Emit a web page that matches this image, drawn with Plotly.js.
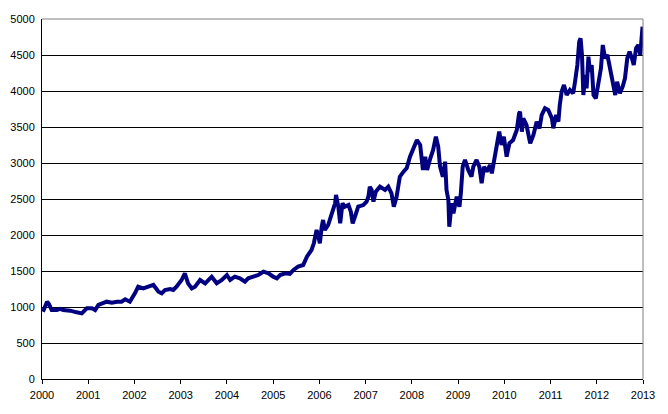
<!DOCTYPE html>
<html>
<head>
<meta charset="utf-8">
<script src="https://cdn.plot.ly/plotly-3.0.1.min.js"></script>
<style>
  html, body { margin: 0; padding: 0; background: #ffffff; }
  #chart { width: 668px; height: 414px; }
</style>
</head>
<body>
<div id="chart"></div>
<script>
// Time in decimal years
const years = [
  2000.02, 2000.11, 2000.15, 2000.21, 2000.32, 2000.39, 2000.46, 2000.61, 2000.75, 2000.86,
  2000.97, 2001.08, 2001.15, 2001.22, 2001.40, 2001.51, 2001.62, 2001.72, 2001.80, 2001.90,
  2002.01, 2002.08, 2002.19, 2002.30, 2002.41, 2002.52, 2002.59, 2002.66, 2002.77, 2002.84,
  2002.91, 2003.02, 2003.09, 2003.16, 2003.24, 2003.31, 2003.42, 2003.53, 2003.67, 2003.78,
  2003.89, 2004.00, 2004.07, 2004.17, 2004.28, 2004.39, 2004.46, 2004.57, 2004.68, 2004.79,
  2004.90, 2005.00, 2005.08, 2005.15, 2005.26, 2005.36, 2005.44, 2005.54, 2005.65, 2005.73,
  2005.80, 2005.83, 2005.88, 2005.94, 2005.98, 2006.01, 2006.05, 2006.08, 2006.12, 2006.19,
  2006.27, 2006.34, 2006.36, 2006.41, 2006.45, 2006.50, 2006.55, 2006.63, 2006.68, 2006.72,
  2006.77, 2006.84, 2006.95, 2007.02, 2007.06, 2007.09, 2007.13, 2007.17, 2007.22, 2007.31,
  2007.42, 2007.49, 2007.56, 2007.61, 2007.67, 2007.71, 2007.74, 2007.82, 2007.89, 2007.96,
  2008.03, 2008.11, 2008.18, 2008.24, 2008.29, 2008.33, 2008.40, 2008.46, 2008.52, 2008.57,
  2008.61, 2008.67, 2008.72, 2008.75, 2008.79, 2008.81, 2008.86, 2008.90, 2008.97, 2009.03,
  2009.06, 2009.10, 2009.15, 2009.22, 2009.29, 2009.33, 2009.40, 2009.46, 2009.51, 2009.56,
  2009.62, 2009.69, 2009.73, 2009.80, 2009.85, 2009.89, 2009.94, 2009.99, 2010.05, 2010.11,
  2010.19, 2010.27, 2010.32, 2010.34, 2010.38, 2010.41, 2010.48, 2010.52, 2010.56, 2010.63,
  2010.70, 2010.76, 2010.81, 2010.88, 2010.95, 2011.03, 2011.06, 2011.12, 2011.17, 2011.20,
  2011.24, 2011.29, 2011.35, 2011.42, 2011.49, 2011.53, 2011.58, 2011.62, 2011.65, 2011.68,
  2011.71, 2011.75, 2011.78, 2011.82, 2011.85, 2011.89, 2011.93, 2011.98, 2012.03, 2012.09,
  2012.13, 2012.18, 2012.23, 2012.29, 2012.34, 2012.40, 2012.44, 2012.50, 2012.56, 2012.61,
  2012.66, 2012.71, 2012.76, 2012.80, 2012.85, 2012.90, 2012.94, 2012.97, 2012.99
];

// Index level
const values = [
  935, 1074, 1040, 958, 958, 975, 958, 949, 926, 912,
  982, 982, 958, 1028, 1074, 1060, 1074, 1074, 1107, 1074,
  1190, 1282, 1259, 1282, 1306, 1213, 1190, 1236, 1250, 1236,
  1282, 1375, 1468, 1329, 1259, 1282, 1375, 1329, 1421, 1329,
  1375, 1444, 1375, 1421, 1398, 1352, 1398, 1421, 1444, 1491,
  1468, 1421, 1398, 1444, 1468, 1459, 1514, 1560, 1583, 1699,
  1754, 1792, 1885, 2069, 1977, 1885, 2115, 2208, 2069, 2139,
  2301, 2440, 2556, 2393, 2162, 2440, 2393, 2416, 2324, 2162,
  2254, 2393, 2416, 2463, 2532, 2671, 2625, 2463, 2602, 2671,
  2625, 2671, 2579, 2393, 2532, 2718, 2810, 2880, 2930, 3088,
  3181, 3319, 3250, 2903, 3088, 2903, 3065, 3181, 3366, 3227,
  2949, 2810, 3018, 2625, 2486, 2115, 2440, 2301, 2532, 2393,
  2579, 2949, 3042, 2903, 2810, 2949, 3042, 2949, 2718, 2949,
  2880, 2972, 2857, 3134, 3273, 3435, 3250, 3366, 3088, 3273,
  3319, 3458, 3690, 3713, 3435, 3620, 3528, 3366, 3273, 3389,
  3574, 3481, 3667, 3760, 3737, 3620, 3482, 3667, 3574, 3806,
  3991, 4083, 3944, 4014, 3968, 4129, 4361, 4685, 4731, 4500,
  3944, 4222, 4037, 4477, 4268, 4361, 3944, 3898, 4129, 4315,
  4639, 4454, 4500, 4292, 4129, 3944, 4129, 3968, 4060, 4176,
  4454, 4546, 4454, 4361, 4593, 4639, 4500, 4778, 4893
];

const xTicks = [2000, 2001, 2002, 2003, 2004, 2005, 2006, 2007, 2008, 2009, 2010, 2011, 2012, 2013];
const xTickLabels = ['2000', '2001', '2002', '2003', '2004', '2005', '2006', '2007', '2008', '2009', '2010', '2011', '2012', '2013'];
const yTicks = [0, 500, 1000, 1500, 2000, 2500, 3000, 3500, 4000, 4500, 5000];

const trace = {
  x: years,
  y: values,
  type: 'scatter',
  mode: 'lines',
  line: { color: '#000080', width: 4 },
  hoverinfo: 'skip'
};

const tickFont = { family: 'Liberation Sans, Arial, sans-serif', size: 11, color: '#000000' };

const layout = {
  width: 668,
  height: 414,
  margin: { l: 42, r: 25, t: 19, b: 35, pad: 0 },
  paper_bgcolor: '#ffffff',
  plot_bgcolor: '#ffffff',
  showlegend: false,
  xaxis: {
    range: [2000, 2013],
    tickmode: 'array',
    tickvals: xTicks,
    ticktext: xTickLabels,
    ticks: 'outside',
    ticklen: 4,
    tickwidth: 1,
    tickcolor: '#000000',
    showgrid: false,
    zeroline: false,
    showline: true,
    linecolor: '#000000',
    linewidth: 1,
    tickfont: tickFont,
    ticklabelstandoff: 2,
    fixedrange: true
  },
  yaxis: {
    range: [0, 5000],
    tickmode: 'array',
    tickvals: yTicks,
    ticks: '',
    showgrid: true,
    gridcolor: '#000000',
    gridwidth: 1,
    zeroline: false,
    showline: true,
    linecolor: '#000000',
    linewidth: 1,
    tickfont: tickFont,
    ticklabelstandoff: 4,
    fixedrange: true
  },
  shapes: [
    { type: 'line', xref: 'paper', yref: 'paper', x0: 0, x1: 1, y0: 1, y1: 1,
      line: { color: '#808080', width: 1 }, layer: 'above' },
    { type: 'line', xref: 'paper', yref: 'paper', x0: 1, x1: 1, y0: 0, y1: 1,
      line: { color: '#808080', width: 1 }, layer: 'above' }
  ]
};

Plotly.newPlot('chart', [trace], layout, { displayModeBar: false, staticPlot: true });
</script>
</body>
</html>
